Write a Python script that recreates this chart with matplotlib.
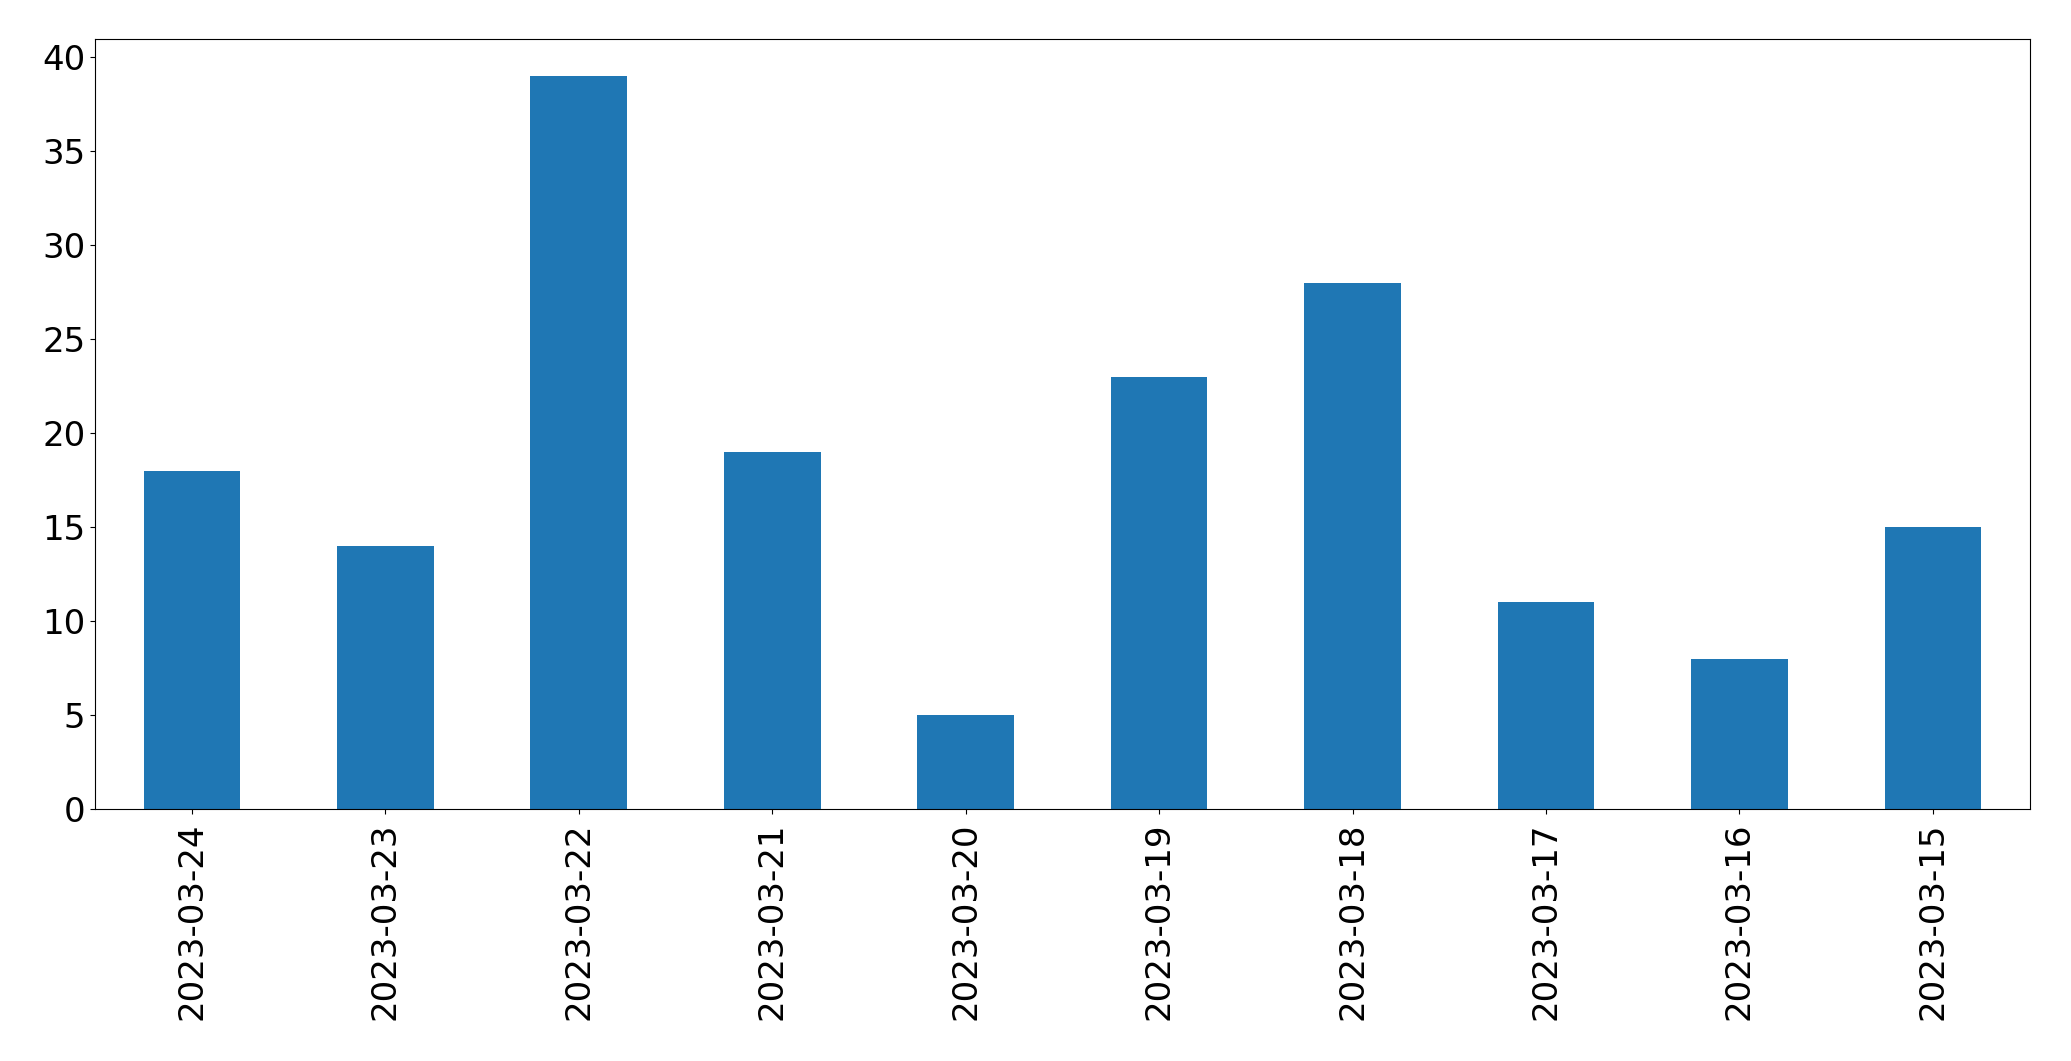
import pandas as pd
import matplotlib
matplotlib.use("Agg")
import matplotlib.pyplot as plt

dates = ["2023-03-24", "2023-03-23", "2023-03-22", "2023-03-21", "2023-03-20",
         "2023-03-19", "2023-03-18", "2023-03-17", "2023-03-16", "2023-03-15"]
counts = [18, 14, 39, 19, 5, 23, 28, 11, 8, 15]


def plot_counts(file_name="out.png"):
    series = pd.Series(counts, index=dates)
    fig, ax = plt.subplots(figsize=(20.71, 10.61), dpi=100)
    series.plot(kind="bar", ax=ax, fontsize=24.5)
    ax.tick_params(axis="x", pad=6)
    fig.subplots_adjust(left=0.046, right=0.980, top=0.963, bottom=0.2375)
    fig.savefig(file_name, dpi=100)
    plt.close(fig)


if __name__ == "__main__":
    plot_counts()
